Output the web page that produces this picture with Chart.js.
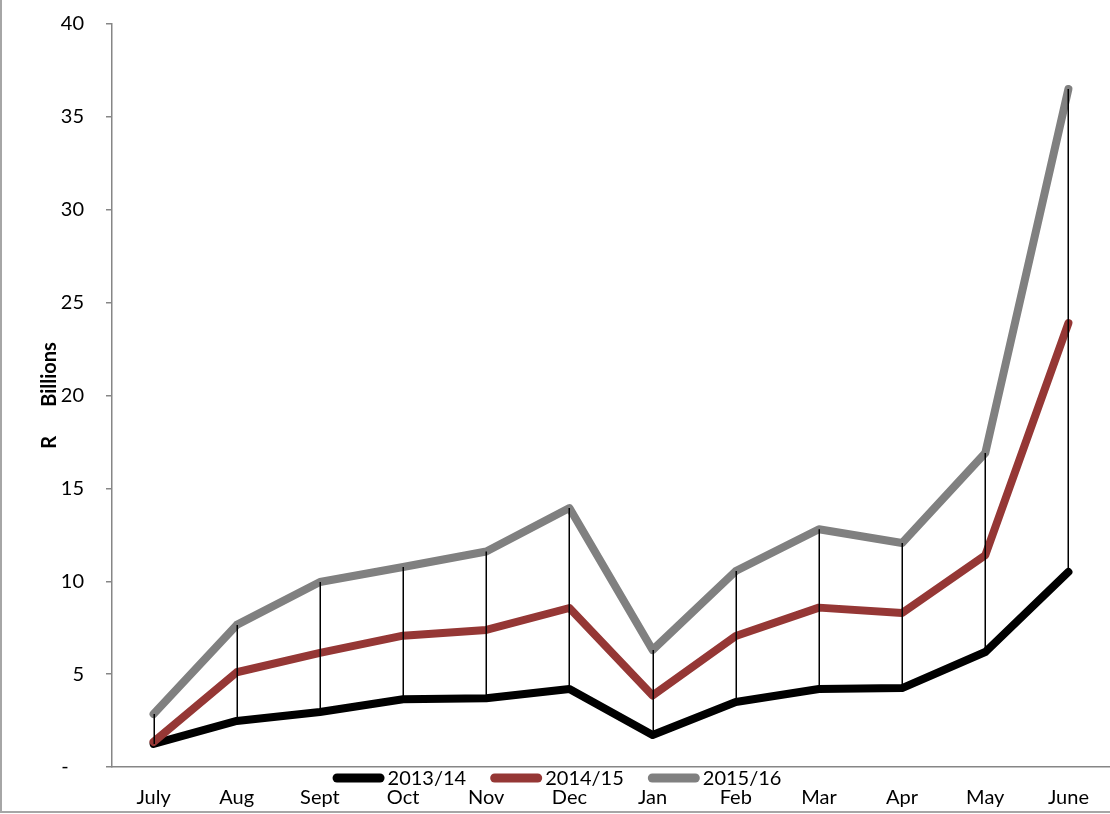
<!DOCTYPE html>
<html>
<head>
<meta charset="utf-8">
<title>Monthly values, R billions</title>
<script src="https://cdn.jsdelivr.net/npm/chart.js@4/dist/chart.umd.min.js"></script>
<style>
  html, body { margin: 0; padding: 0; background: #ffffff; }
  #wrap { width: 1110px; height: 814px; }
</style>
</head>
<body>
<div id="wrap"><canvas id="chart" width="1110" height="814"></canvas></div>
<script>
// Categories and series values (R billions)
const months = ['July', 'Aug', 'Sept', 'Oct', 'Nov', 'Dec', 'Jan', 'Feb', 'Mar', 'Apr', 'May', 'June'];
const seriesNames = ['2013/14', '2014/15', '2015/16'];
const fy2013 = [1.24, 2.48, 2.96, 3.65, 3.70, 4.20, 1.72, 3.50, 4.20, 4.25, 6.19, 10.5];
const fy2014 = [1.35, 5.10, 6.14, 7.07, 7.38, 8.56, 3.85, 7.05, 8.58, 8.29, 11.4, 23.9];
const fy2015 = [2.85, 7.65, 9.96, 10.77, 11.6, 13.94, 6.30, 10.55, 12.8, 12.06, 16.9, 36.5];
const yTickValues = [0, 5, 10, 15, 20, 25, 30, 35, 40];
const yTitle = 'R      Billions';

const colors = ['#000000', '#953735', '#808080'];
const FONT = 'Lato, "Liberation Sans", sans-serif';

// High-low lines joining the highest and lowest series at each month
const highLowLines = {
  id: 'highLowLines',
  afterDatasetsDraw(chart) {
    const { ctx, scales: { x, y } } = chart;
    ctx.save();
    ctx.strokeStyle = '#000000';
    ctx.lineWidth = 1.5;
    months.forEach((m, i) => {
      const vals = chart.data.datasets.map(d => d.data[i]);
      const px = Math.round(x.getPixelForValue(i)) + 0.25;
      ctx.beginPath();
      ctx.moveTo(px, y.getPixelForValue(Math.max(...vals)));
      ctx.lineTo(px, y.getPixelForValue(Math.min(...vals)));
      ctx.stroke();
    });
    ctx.restore();
  }
};

// Legend row placed between the axis line and the month labels
const lineLegend = {
  id: 'lineLegend',
  afterDraw(chart) {
    const { ctx } = chart;
    const ds = chart.data.datasets;
    ctx.save();
    ctx.font = '20px ' + FONT;
    ctx.textBaseline = 'middle';
    const swatch = 52, gap = 3, itemGap = 24;
    const widths = ds.map(d => swatch + gap + ctx.measureText(d.label).width);
    const total = widths.reduce((a, b) => a + b, 0) + itemGap * (ds.length - 1);
    let xPos = chart.width / 2 + 2 - total / 2;
    const yPos = 778;
    ds.forEach((d, i) => {
      ctx.strokeStyle = d.borderColor;
      ctx.lineWidth = 9;
      ctx.lineCap = 'round';
      ctx.beginPath();
      ctx.moveTo(xPos + 4.5, yPos);
      ctx.lineTo(xPos + swatch - 4.5, yPos);
      ctx.stroke();
      ctx.fillStyle = '#000000';
      ctx.textAlign = 'left';
      ctx.fillText(d.label, xPos + swatch + gap, yPos + 1);
      xPos += widths[i] + itemGap;
    });
    ctx.restore();
  }
};

// Frame on the left and bottom edges of the picture
const outerFrame = {
  id: 'outerFrame',
  afterDraw(chart) {
    const { ctx } = chart;
    ctx.save();
    ctx.strokeStyle = '#a6a6a6';
    ctx.lineWidth = 2;
    ctx.beginPath();
    ctx.moveTo(1, 0);
    ctx.lineTo(1, chart.height - 2);
    ctx.lineTo(chart.width, chart.height - 2);
    ctx.stroke();
    ctx.restore();
  }
};

const seriesData = [fy2013, fy2014, fy2015];

new Chart(document.getElementById('chart'), {
  type: 'line',
  data: {
    labels: months,
    datasets: seriesNames.map((name, i) => ({
      label: name,
      data: seriesData[i],
      borderColor: colors[i],
      backgroundColor: colors[i],
      borderWidth: 8,
      borderCapStyle: 'round',
      borderJoinStyle: 'round',
      pointRadius: 0,
      pointHoverRadius: 0,
      tension: 0,
      fill: false,
      order: 3 - i
    }))
  },
  options: {
    responsive: false,
    animation: false,
    events: [],
    layout: { padding: { top: 24, left: 0, right: 0, bottom: 0 } },
    plugins: {
      legend: { display: false },
      tooltip: { enabled: false }
    },
    scales: {
      x: {
        type: 'category',
        offset: true,
        grid: { display: true, drawOnChartArea: false, drawTicks: false, color: 'rgba(0,0,0,0)' },
        border: { display: true, color: '#868686', width: 1.5 },
        ticks: {
          color: '#000000',
          font: { family: FONT, size: 20 },
          padding: 19,
          maxRotation: 0,
          autoSkip: false
        },
        afterFit(scale) { scale.height = 47; }
      },
      y: {
        type: 'linear',
        min: 0,
        max: 40,
        afterBuildTicks(scale) { scale.ticks = yTickValues.map(v => ({ value: v })); },
        grid: { display: true, drawOnChartArea: false, drawTicks: true, tickLength: 6, color: '#868686', lineWidth: 1.5 },
        border: { display: true, color: '#868686', width: 1.5 },
        ticks: {
          color: '#000000',
          font: { family: FONT, size: 20 },
          padding: 22,
          callback: v => (v === 0 ? '-   ' : String(v))
        },
        title: {
          display: true,
          text: yTitle,
          color: '#000000',
          font: { family: FONT, size: 20, weight: 'bold' },
          padding: { top: 38, bottom: 0 }
        },
        afterFit(scale) {
          scale.width = 112;
          scale.paddingTop = 0;
          scale.paddingBottom = 0;
        }
      }
    }
  },
  plugins: [highLowLines, lineLegend, outerFrame]
});
</script>
</body>
</html>
